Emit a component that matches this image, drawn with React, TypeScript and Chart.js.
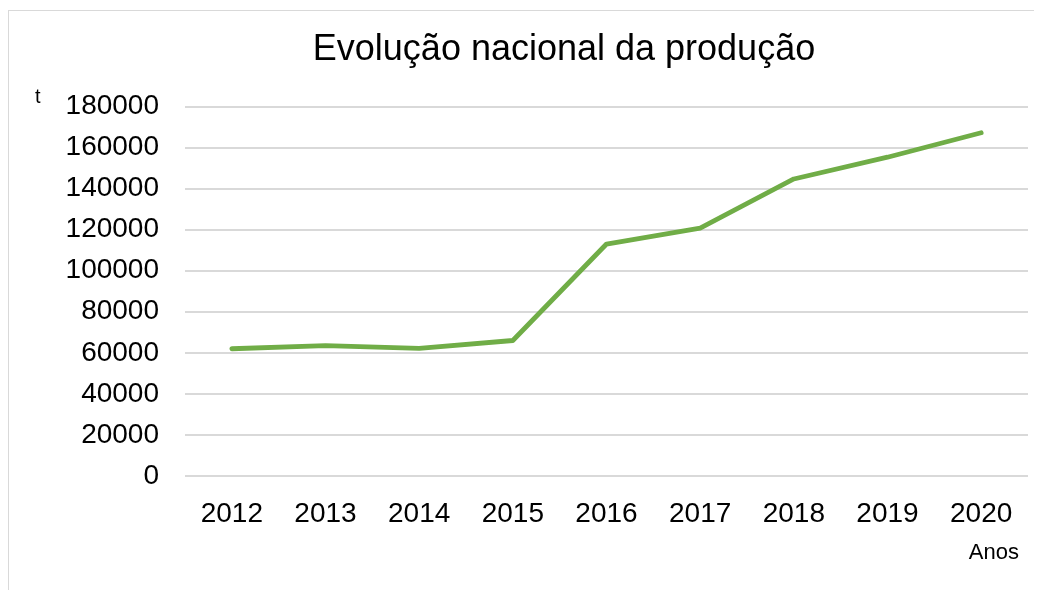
import React, { useEffect, useRef } from "react";
import { Chart, registerables } from "chart.js";

Chart.register(...registerables);

const years: string[] = ["2012", "2013", "2014", "2015", "2016", "2017", "2018", "2019", "2020"];
const production: number[] = [62000, 63500, 62200, 66000, 113000, 120700, 144700, 155300, 167200];
const yTicks: number[] = [0, 20000, 40000, 60000, 80000, 100000, 120000, 140000, 160000, 180000];
const titleText = "Evolução nacional da produção";
const yUnit = "t";
const xName = "Anos";

const FONT = "'Liberation Sans', Arial, sans-serif";

const textPlugin = {
  id: "extraTexts",
  afterDraw(chart: any) {
    const ctx = chart.ctx;
    const a = chart.chartArea;
    ctx.save();
    ctx.fillStyle = "#000";
    ctx.textBaseline = "alphabetic";
    ctx.font = `36px ${FONT}`;
    ctx.textAlign = "center";
    ctx.fillText(titleText, a.left + 379, 48.5);
    ctx.font = `20px ${FONT}`;
    ctx.textAlign = "left";
    ctx.fillText(yUnit, 26, 92);
    ctx.font = `22px ${FONT}`;
    ctx.textAlign = "right";
    ctx.fillText(xName, a.right - 9, 548);
    ctx.restore();
  },
};

export default function App() {
  const ref = useRef<HTMLCanvasElement | null>(null);
  useEffect(() => {
    document.documentElement.style.overflow = "hidden";
    const chart = new Chart(ref.current as HTMLCanvasElement, {
      type: "line",
      data: {
        labels: years,
        datasets: [
          {
            data: production,
            borderColor: "#70ad47",
            backgroundColor: "#70ad47",
            borderWidth: 4.8,
            borderCapStyle: "round",
            borderJoinStyle: "round",
            pointRadius: 0,
            tension: 0,
          },
        ],
      },
      options: {
        animation: false,
        responsive: true,
        maintainAspectRatio: false,
        layout: { padding: { top: 95.5, right: 14, left: 0, bottom: 0 } },
        plugins: { legend: { display: false }, title: { display: false }, tooltip: { enabled: false } },
        scales: {
          x: {
            offset: true,
            grid: { display: false, drawTicks: false },
            border: { display: false },
            ticks: { color: "#000", font: { family: FONT, size: 28 }, padding: 21, maxRotation: 0 },
            afterFit: (s: any) => {
              s.height = 114;
            },
          },
          y: {
            min: 0,
            max: 180000,
            afterBuildTicks: (s: any) => {
              s.ticks = yTicks.map((v) => ({ value: v }));
            },
            grid: { color: "#d9d9d9", lineWidth: 2, drawTicks: false },
            border: { display: false },
            ticks: {
              color: "#000",
              font: { family: FONT, size: 28 },
              padding: 26,
              callback: (v: any) => String(v),
            },
            afterFit: (s: any) => {
              s.width = 176;
            },
          },
        },
      },
      plugins: [textPlugin],
    } as any);
    return () => chart.destroy();
  }, []);
  return (
    <div
      style={{
        width: 1034,
        height: 580,
        marginTop: 2,
        boxSizing: "border-box",
        borderTop: "1px solid #d9d9d9",
        borderLeft: "1px solid #d9d9d9",
        position: "relative",
        background: "#fff",
      }}
    >
      <div style={{ position: "absolute", left: 0, top: 0, right: 0, bottom: 0 }}>
        <canvas ref={ref} />
      </div>
    </div>
  );
}
